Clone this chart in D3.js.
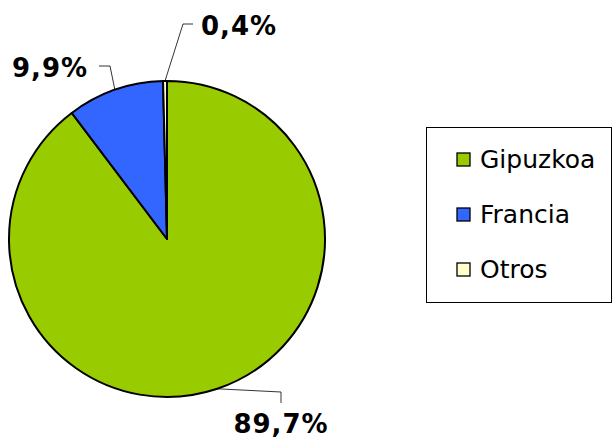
<!DOCTYPE html>
<html>
<head>
<meta charset="utf-8">
<script src="https://cdn.jsdelivr.net/npm/d3@7"></script>
<style>
  body { margin: 0; background: #fff; }
  svg { display: block; }
</style>
</head>
<body>
<div id="chart"></div>
<script>
const categories = ["Gipuzkoa", "Francia", "Otros"];
const values = [89.7, 9.9, 0.4];
const valueLabels = ["89,7%", "9,9%", "0,4%"];
const colors = ["#99cc00", "#3366ff", "#ffffcc"];

const width = 612, height = 439;
const cx = 167, cy = 239, radius = 158;

const svg = d3.select("#chart").append("svg")
    .attr("width", width)
    .attr("height", height);

const pie = d3.pie().sort(null).value(d => d)
    .startAngle(0).endAngle(2 * Math.PI);
const arcs = pie(values);
const arc = d3.arc().innerRadius(0).outerRadius(radius);

const g = svg.append("g").attr("transform", `translate(${cx},${cy})`);

g.selectAll("path")
    .data(arcs)
    .enter().append("path")
    .attr("d", arc)
    .attr("fill", (d, i) => colors[i])
    .attr("stroke", "#000")
    .attr("stroke-width", 2)
    .attr("stroke-linejoin", "round");

// leader lines + labels (elbow / text offsets relative to pie centre)
const labelLayout = [
    { elbow: [[114, 153], [114, 164]], text: [114, 194] },
    { elbow: [[-57, -173], [-68, -173]], text: [-117, -162] },
    { elbow: [[16, -215], [26, -215]], text: [72, -204] }
];

const line = d3.line();
arcs.forEach((d, i) => {
    const mid = (d.startAngle + d.endAngle) / 2;
    const p0 = [Math.sin(mid) * radius, -Math.cos(mid) * radius];
    const lay = labelLayout[i];
    g.append("path")
        .attr("d", line([p0].concat(lay.elbow)))
        .attr("fill", "none")
        .attr("stroke", "#000")
        .attr("stroke-width", 0.8);
    g.append("text")
        .attr("x", lay.text[0])
        .attr("y", lay.text[1])
        .attr("text-anchor", "middle")
        .attr("font-family", "DejaVu Sans, Verdana, sans-serif")
        .attr("font-weight", "bold")
        .attr("font-size", 26)
        .attr("letter-spacing", 1)
        .attr("fill", "#000")
        .text(valueLabels[i]);
});

// legend
const legend = svg.append("g").attr("transform", "translate(426,127)");
legend.append("rect")
    .attr("x", 0.5).attr("y", 0.5)
    .attr("width", 185).attr("height", 175)
    .attr("fill", "#fff")
    .attr("stroke", "#000")
    .attr("stroke-width", 1);

const rowY = d3.scalePoint().domain(categories).range([33, 143]);

const rows = legend.selectAll("g.row")
    .data(categories)
    .enter().append("g")
    .attr("class", "row")
    .attr("transform", d => `translate(0,${rowY(d)})`);

rows.append("rect")
    .attr("x", 31).attr("y", -7)
    .attr("width", 13).attr("height", 13)
    .attr("fill", (d, i) => colors[i])
    .attr("stroke", "#000")
    .attr("stroke-width", 1.3);

rows.append("text")
    .attr("x", 54)
    .attr("y", 8)
    .attr("font-family", "DejaVu Sans, Verdana, sans-serif")
    .attr("font-size", 25)
    .attr("fill", "#000")
    .text(d => d);
</script>
</body>
</html>
